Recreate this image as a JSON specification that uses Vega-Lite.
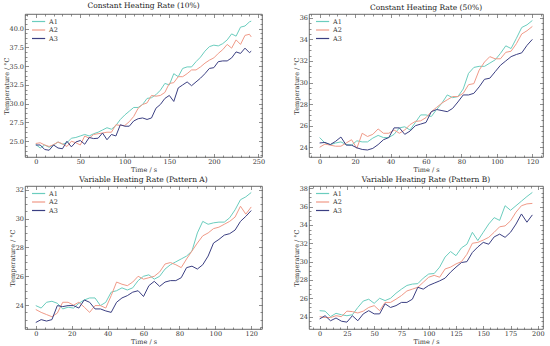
{
  "$schema": "https://vega.github.io/schema/vega-lite/v6.json",
  "padding": {"left": 2, "top": 1, "right": 4, "bottom": 1},
  "background": "white",
  "data": {"values": [
    {"p":1,"t":0,"A1":24.56,"A2":24.7,"A3":24.5},
    {"p":1,"t":5,"A1":24.1,"A2":24.8,"A3":24.5},
    {"p":1,"t":10,"A1":24.5,"A2":24.5,"A3":23.9},
    {"p":1,"t":15,"A1":24.2,"A2":24.3,"A3":23.8},
    {"p":1,"t":20,"A1":24.5,"A2":24.55,"A3":24.5},
    {"p":1,"t":25,"A1":24.9,"A2":24.9,"A3":24.1},
    {"p":1,"t":30,"A1":24.6,"A2":24.65,"A3":24.0},
    {"p":1,"t":35,"A1":24.8,"A2":24.3,"A3":25.0},
    {"p":1,"t":40,"A1":25.4,"A2":25.0,"A3":24.25},
    {"p":1,"t":45,"A1":25.5,"A2":24.8,"A3":24.9},
    {"p":1,"t":50,"A1":25.7,"A2":24.5,"A3":25.1},
    {"p":1,"t":55,"A1":25.9,"A2":25.7,"A3":24.6},
    {"p":1,"t":60,"A1":25.7,"A2":25.4,"A3":25.5},
    {"p":1,"t":65,"A1":26.0,"A2":25.9,"A3":25.35},
    {"p":1,"t":70,"A1":26.2,"A2":26.0,"A3":25.4},
    {"p":1,"t":75,"A1":26.5,"A2":26.1,"A3":26.1},
    {"p":1,"t":80,"A1":26.8,"A2":26.2,"A3":25.2},
    {"p":1,"t":85,"A1":26.6,"A2":26.2,"A3":25.9},
    {"p":1,"t":90,"A1":27.1,"A2":27.2,"A3":25.7},
    {"p":1,"t":95,"A1":27.9,"A2":27.1,"A3":27.2},
    {"p":1,"t":100,"A1":28.5,"A2":27.1,"A3":27.0},
    {"p":1,"t":105,"A1":29.0,"A2":27.6,"A3":27.0},
    {"p":1,"t":110,"A1":29.5,"A2":28.3,"A3":27.7},
    {"p":1,"t":115,"A1":29.5,"A2":29.4,"A3":28.0},
    {"p":1,"t":120,"A1":29.9,"A2":29.9,"A3":28.1},
    {"p":1,"t":125,"A1":30.7,"A2":30.1,"A3":27.9},
    {"p":1,"t":130,"A1":30.8,"A2":31.1,"A3":28.1},
    {"p":1,"t":135,"A1":31.2,"A2":31.0,"A3":29.4},
    {"p":1,"t":140,"A1":31.8,"A2":31.1,"A3":29.9},
    {"p":1,"t":145,"A1":32.7,"A2":31.5,"A3":30.7},
    {"p":1,"t":150,"A1":32.5,"A2":32.7,"A3":31.1},
    {"p":1,"t":155,"A1":34.0,"A2":32.8,"A3":30.3},
    {"p":1,"t":160,"A1":33.6,"A2":33.6,"A3":32.1},
    {"p":1,"t":165,"A1":34.7,"A2":33.6,"A3":32.5},
    {"p":1,"t":170,"A1":34.9,"A2":34.0,"A3":32.9},
    {"p":1,"t":175,"A1":34.9,"A2":34.5,"A3":32.4},
    {"p":1,"t":180,"A1":35.6,"A2":34.5,"A3":32.9},
    {"p":1,"t":185,"A1":36.2,"A2":34.9,"A3":33.4},
    {"p":1,"t":190,"A1":37.0,"A2":35.4,"A3":34.0},
    {"p":1,"t":195,"A1":37.6,"A2":35.8,"A3":34.7},
    {"p":1,"t":200,"A1":37.8,"A2":36.1,"A3":34.8},
    {"p":1,"t":205,"A1":37.7,"A2":36.7,"A3":35.6},
    {"p":1,"t":210,"A1":38.0,"A2":37.2,"A3":35.7},
    {"p":1,"t":215,"A1":38.5,"A2":37.9,"A3":35.7},
    {"p":1,"t":220,"A1":39.3,"A2":37.4,"A3":36.1},
    {"p":1,"t":225,"A1":39.0,"A2":38.5,"A3":36.9},
    {"p":1,"t":230,"A1":40.2,"A2":37.9,"A3":36.7},
    {"p":1,"t":235,"A1":40.35,"A2":39.1,"A3":37.4},
    {"p":1,"t":240,"A1":40.9,"A2":39.25,"A3":36.8},
    {"p":1,"t":242,"A1":41.0,"A2":38.9,"A3":37.0},
    {"p":2,"t":0,"A1":24.9,"A2":24.0,"A3":24.4},
    {"p":2,"t":3,"A1":24.4,"A2":24.3,"A3":24.45},
    {"p":2,"t":6,"A1":24.25,"A2":24.2,"A3":24.25},
    {"p":2,"t":9,"A1":24.4,"A2":24.1,"A3":24.55},
    {"p":2,"t":12,"A1":24.5,"A2":24.1,"A3":24.95},
    {"p":2,"t":15,"A1":24.25,"A2":24.4,"A3":24.2},
    {"p":2,"t":18,"A1":24.2,"A2":24.7,"A3":24.2},
    {"p":2,"t":21,"A1":24.6,"A2":23.9,"A3":23.95},
    {"p":2,"t":24,"A1":24.5,"A2":25.3,"A3":23.8},
    {"p":2,"t":27,"A1":24.5,"A2":25.0,"A3":23.75},
    {"p":2,"t":30,"A1":24.85,"A2":25.2,"A3":23.9},
    {"p":2,"t":33,"A1":25.1,"A2":25.7,"A3":24.25},
    {"p":2,"t":36,"A1":24.9,"A2":25.3,"A3":24.7},
    {"p":2,"t":39,"A1":24.9,"A2":25.3,"A3":24.9},
    {"p":2,"t":42,"A1":25.2,"A2":25.6,"A3":25.8},
    {"p":2,"t":45,"A1":25.8,"A2":25.3,"A3":25.8},
    {"p":2,"t":48,"A1":25.9,"A2":25.6,"A3":25.2},
    {"p":2,"t":51,"A1":25.6,"A2":26.1,"A3":25.5},
    {"p":2,"t":54,"A1":26.3,"A2":26.4,"A3":26.0},
    {"p":2,"t":57,"A1":27.0,"A2":26.45,"A3":26.15},
    {"p":2,"t":60,"A1":27.0,"A2":26.75,"A3":26.3},
    {"p":2,"t":63,"A1":26.85,"A2":27.3,"A3":27.3},
    {"p":2,"t":66,"A1":27.5,"A2":27.7,"A3":27.5},
    {"p":2,"t":69,"A1":28.1,"A2":28.1,"A3":27.4},
    {"p":2,"t":72,"A1":28.85,"A2":28.4,"A3":27.3},
    {"p":2,"t":75,"A1":28.6,"A2":28.7,"A3":27.6},
    {"p":2,"t":78,"A1":28.7,"A2":28.7,"A3":28.2},
    {"p":2,"t":81,"A1":29.4,"A2":29.0,"A3":28.85},
    {"p":2,"t":84,"A1":30.85,"A2":29.8,"A3":28.85},
    {"p":2,"t":87,"A1":31.4,"A2":29.9,"A3":29.0},
    {"p":2,"t":90,"A1":31.5,"A2":31.15,"A3":29.6},
    {"p":2,"t":93,"A1":31.5,"A2":31.9,"A3":30.3},
    {"p":2,"t":96,"A1":31.8,"A2":32.4,"A3":30.4},
    {"p":2,"t":99,"A1":32.1,"A2":32.2,"A3":31.0},
    {"p":2,"t":102,"A1":32.7,"A2":32.2,"A3":31.6},
    {"p":2,"t":105,"A1":33.4,"A2":32.8,"A3":32.0},
    {"p":2,"t":108,"A1":33.15,"A2":32.9,"A3":32.4},
    {"p":2,"t":111,"A1":34.1,"A2":33.6,"A3":32.6},
    {"p":2,"t":114,"A1":35.1,"A2":34.5,"A3":32.75},
    {"p":2,"t":117,"A1":35.35,"A2":34.8,"A3":33.45},
    {"p":2,"t":120,"A1":35.75,"A2":35.2,"A3":34.0},
    {"p":3,"t":0,"A1":23.97,"A2":23.7,"A3":22.8},
    {"p":3,"t":3,"A1":23.8,"A2":23.5,"A3":23.0},
    {"p":3,"t":6,"A1":24.2,"A2":23.35,"A3":22.9},
    {"p":3,"t":9,"A1":24.27,"A2":23.2,"A3":23.0},
    {"p":3,"t":12,"A1":24.13,"A2":23.45,"A3":23.97},
    {"p":3,"t":15,"A1":23.74,"A2":24.2,"A3":23.9},
    {"p":3,"t":18,"A1":23.86,"A2":24.2,"A3":23.97},
    {"p":3,"t":21,"A1":23.8,"A2":24.0,"A3":23.97},
    {"p":3,"t":24,"A1":24.13,"A2":24.2,"A3":23.8},
    {"p":3,"t":27,"A1":24.36,"A2":23.86,"A3":24.36},
    {"p":3,"t":30,"A1":24.5,"A2":23.5,"A3":24.2},
    {"p":3,"t":33,"A1":24.5,"A2":23.97,"A3":23.74},
    {"p":3,"t":36,"A1":23.97,"A2":23.97,"A3":23.74},
    {"p":3,"t":39,"A1":24.2,"A2":23.8,"A3":23.6},
    {"p":3,"t":42,"A1":24.9,"A2":24.66,"A3":23.5},
    {"p":3,"t":45,"A1":25.0,"A2":25.6,"A3":24.2},
    {"p":3,"t":48,"A1":25.2,"A2":25.45,"A3":24.5},
    {"p":3,"t":51,"A1":25.05,"A2":25.35,"A3":24.66},
    {"p":3,"t":54,"A1":25.2,"A2":25.6,"A3":24.9},
    {"p":3,"t":57,"A1":25.7,"A2":26.0,"A3":25.0},
    {"p":3,"t":60,"A1":26.0,"A2":25.8,"A3":24.6},
    {"p":3,"t":63,"A1":26.1,"A2":25.9,"A3":25.35},
    {"p":3,"t":66,"A1":25.8,"A2":26.0,"A3":25.65},
    {"p":3,"t":69,"A1":26.0,"A2":26.3,"A3":25.3},
    {"p":3,"t":72,"A1":26.5,"A2":26.85,"A3":25.6},
    {"p":3,"t":75,"A1":26.8,"A2":26.95,"A3":25.7},
    {"p":3,"t":78,"A1":27.0,"A2":26.8,"A3":25.7},
    {"p":3,"t":81,"A1":27.2,"A2":26.6,"A3":25.9},
    {"p":3,"t":84,"A1":27.4,"A2":27.2,"A3":26.6},
    {"p":3,"t":87,"A1":27.75,"A2":27.75,"A3":26.7},
    {"p":3,"t":90,"A1":29.0,"A2":28.3,"A3":26.5},
    {"p":3,"t":93,"A1":29.8,"A2":28.8,"A3":26.8},
    {"p":3,"t":96,"A1":29.6,"A2":29.0,"A3":27.4},
    {"p":3,"t":99,"A1":29.7,"A2":29.3,"A3":28.3},
    {"p":3,"t":102,"A1":29.75,"A2":29.4,"A3":28.55},
    {"p":3,"t":105,"A1":29.75,"A2":29.6,"A3":28.85},
    {"p":3,"t":108,"A1":30.05,"A2":29.8,"A3":28.95},
    {"p":3,"t":111,"A1":30.6,"A2":30.1,"A3":29.2},
    {"p":3,"t":114,"A1":31.3,"A2":30.85,"A3":29.8},
    {"p":3,"t":117,"A1":31.5,"A2":30.3,"A3":30.15},
    {"p":3,"t":120,"A1":31.8,"A2":30.8,"A3":30.55},
    {"p":4,"t":0,"A1":24.65,"A2":24.0,"A3":23.75},
    {"p":4,"t":5,"A1":24.6,"A2":23.9,"A3":24.1},
    {"p":4,"t":10,"A1":24.0,"A2":23.9,"A3":23.55},
    {"p":4,"t":15,"A1":24.36,"A2":24.1,"A3":23.85},
    {"p":4,"t":20,"A1":24.2,"A2":24.0,"A3":23.5},
    {"p":4,"t":25,"A1":24.1,"A2":24.6,"A3":23.4},
    {"p":4,"t":30,"A1":24.2,"A2":24.55,"A3":24.1},
    {"p":4,"t":35,"A1":25.0,"A2":24.4,"A3":23.55},
    {"p":4,"t":40,"A1":25.7,"A2":24.6,"A3":24.3},
    {"p":4,"t":45,"A1":25.9,"A2":25.0,"A3":24.65},
    {"p":4,"t":50,"A1":25.45,"A2":25.2,"A3":24.3},
    {"p":4,"t":55,"A1":26.0,"A2":24.65,"A3":24.3},
    {"p":4,"t":60,"A1":25.75,"A2":25.55,"A3":25.4},
    {"p":4,"t":65,"A1":26.0,"A2":25.55,"A3":25.0},
    {"p":4,"t":70,"A1":26.55,"A2":25.9,"A3":25.2},
    {"p":4,"t":75,"A1":27.0,"A2":26.3,"A3":25.55},
    {"p":4,"t":80,"A1":27.4,"A2":26.8,"A3":25.55},
    {"p":4,"t":85,"A1":27.55,"A2":27.0,"A3":25.9},
    {"p":4,"t":90,"A1":27.6,"A2":27.2,"A3":27.2},
    {"p":4,"t":95,"A1":28.2,"A2":27.75,"A3":27.0},
    {"p":4,"t":100,"A1":28.65,"A2":28.3,"A3":27.4},
    {"p":4,"t":105,"A1":28.7,"A2":28.5,"A3":27.65},
    {"p":4,"t":110,"A1":29.4,"A2":28.3,"A3":27.9},
    {"p":4,"t":115,"A1":30.5,"A2":29.2,"A3":28.2},
    {"p":4,"t":120,"A1":31.1,"A2":29.4,"A3":28.85},
    {"p":4,"t":125,"A1":30.65,"A2":29.75,"A3":29.4},
    {"p":4,"t":130,"A1":31.5,"A2":30.0,"A3":29.9},
    {"p":4,"t":135,"A1":31.9,"A2":30.8,"A3":30.0},
    {"p":4,"t":140,"A1":33.2,"A2":32.0,"A3":31.0},
    {"p":4,"t":145,"A1":32.3,"A2":32.1,"A3":31.6},
    {"p":4,"t":150,"A1":33.2,"A2":32.35,"A3":32.1},
    {"p":4,"t":155,"A1":34.1,"A2":32.65,"A3":31.9},
    {"p":4,"t":160,"A1":34.8,"A2":33.2,"A3":32.7},
    {"p":4,"t":165,"A1":34.5,"A2":33.8,"A3":33.0},
    {"p":4,"t":170,"A1":36.1,"A2":33.9,"A3":32.65},
    {"p":4,"t":175,"A1":35.6,"A2":34.45,"A3":33.2},
    {"p":4,"t":180,"A1":36.1,"A2":35.4,"A3":34.1},
    {"p":4,"t":185,"A1":36.6,"A2":36.1,"A3":35.2},
    {"p":4,"t":190,"A1":37.1,"A2":36.3,"A3":34.3},
    {"p":4,"t":195,"A1":37.55,"A2":36.35,"A3":35.1}
  ]},
  "transform": [{"fold": ["A1", "A2", "A3"], "as": ["s", "v"]}],
  "columns": 2,
  "bounds": "flush",
  "spacing": {"row": 29, "column": 47},
  "resolve": {"scale": {"x": "independent", "y": "independent", "color": "independent"}, "legend": {"color": "independent"}},
  "config": {
    "font": "DejaVu Serif",
    "view": {"stroke": "#444", "strokeWidth": 0.8},
    "title": {"font": "DejaVu Serif", "fontSize": 7.5, "fontWeight": "normal", "color": "#222", "offset": 2},
    "axis": {"labelFont": "DejaVu Serif", "labelFontSize": 6.5, "labelColor": "#333", "titleFont": "DejaVu Serif", "titleFontSize": 6.5, "titleFontWeight": "normal", "titleColor": "#333", "domain": false, "grid": false, "tickColor": "#444", "tickWidth": 0.6, "labelPadding": 5, "titlePadding": 0, "labelOverlap": false},
    "legend": {"orient": "top-left", "offset": 3.5, "title": null, "labelFont": "DejaVu Serif", "labelFontSize": 6.5, "labelColor": "#333", "symbolType": "M-2.4,0L2.4,0", "symbolSize": 30, "symbolStrokeWidth": 1.2, "symbolOffset": 6.1, "rowPadding": 1.5, "padding": 0, "labelOffset": 7}
  },
  "concat": [
    {
      "width": 237, "height": 143,
      "title": "Constant Heating Rate (10%)",
      "transform": [{"filter": "datum.p === 1"}],
      "resolve": {"axis": {"x": "independent", "y": "independent"}},
      "layer": [
        {
          "mark": {"type": "line", "strokeWidth": 1},
          "encoding": {
            "x": {"field": "t", "type": "quantitative", "scale": {"domain": [-12.1, 254.1], "nice": false, "zero": false},
              "axis": {"title": "Time / s", "format": ".0f", "values": [-10,0,10,20,30,40,50,60,70,80,90,100,110,120,130,140,150,160,170,180,190,200,210,220,230,240,250], "labelExpr": "datum.value % 50 === 0 ? datum.label : ''", "tickSize": {"condition": {"test": "datum.value % 50 === 0", "value": -3.5}, "value": -2}}},
            "y": {"field": "v", "type": "quantitative", "scale": {"domain": [22.9, 41.95], "nice": false, "zero": false},
              "axis": {"title": "Temperature / °C", "format": ".1f", "values": [23.125,23.75,24.375,25,25.625,26.25,26.875,27.5,28.125,28.75,29.375,30,30.625,31.25,31.875,32.5,33.125,33.75,34.375,35,35.625,36.25,36.875,37.5,38.125,38.75,39.375,40,40.625,41.25,41.875], "labelExpr": "datum.value % 2.5 === 0 ? datum.label : ''", "tickSize": {"condition": {"test": "datum.value % 2.5 === 0", "value": -3.5}, "value": -2}}},
            "color": {"field": "s", "type": "nominal", "scale": {"domain": ["A1", "A2", "A3"], "range": ["#6BCDBE", "#F09A88", "#3B3F82"]}}
          }
        },
        {
          "mark": {"type": "line", "opacity": 0},
          "encoding": {
            "x": {"field": "t", "type": "quantitative", "axis": {"orient": "top", "title": null, "labels": false, "values": [-10,0,10,20,30,40,50,60,70,80,90,100,110,120,130,140,150,160,170,180,190,200,210,220,230,240,250], "tickSize": {"condition": {"test": "datum.value % 50 === 0", "value": -3.5}, "value": -2}}},
            "y": {"field": "v", "type": "quantitative", "axis": {"orient": "right", "title": null, "labels": false, "values": [23.125,23.75,24.375,25,25.625,26.25,26.875,27.5,28.125,28.75,29.375,30,30.625,31.25,31.875,32.5,33.125,33.75,34.375,35,35.625,36.25,36.875,37.5,38.125,38.75,39.375,40,40.625,41.25,41.875], "tickSize": {"condition": {"test": "datum.value % 2.5 === 0", "value": -3.5}, "value": -2}}},
            "detail": {"field": "s"}
          }
        }
      ]
    },
    {
      "width": 234, "height": 143,
      "title": "Constant Heating Rate (50%)",
      "transform": [{"filter": "datum.p === 2"}],
      "resolve": {"axis": {"x": "independent", "y": "independent"}},
      "layer": [
        {
          "mark": {"type": "line", "strokeWidth": 1},
          "encoding": {
            "x": {"field": "t", "type": "quantitative", "scale": {"domain": [-6, 126], "nice": false, "zero": false},
              "axis": {"title": "Time / s", "format": ".0f", "values": [-5,0,5,10,15,20,25,30,35,40,45,50,55,60,65,70,75,80,85,90,95,100,105,110,115,120,125], "labelExpr": "datum.value % 20 === 0 ? datum.label : ''", "tickSize": {"condition": {"test": "datum.value % 20 === 0", "value": -3.5}, "value": -2}}},
            "y": {"field": "v", "type": "quantitative", "scale": {"domain": [23.1, 36.35], "nice": false, "zero": false},
              "axis": {"title": "Temperature / °C", "format": ".0f", "values": [23.5,24,24.5,25,25.5,26,26.5,27,27.5,28,28.5,29,29.5,30,30.5,31,31.5,32,32.5,33,33.5,34,34.5,35,35.5,36], "labelExpr": "datum.value % 2 === 0 ? datum.label : ''", "tickSize": {"condition": {"test": "datum.value % 2 === 0", "value": -3.5}, "value": -2}}},
            "color": {"field": "s", "type": "nominal", "scale": {"domain": ["A1", "A2", "A3"], "range": ["#6BCDBE", "#F09A88", "#3B3F82"]}}
          }
        },
        {
          "mark": {"type": "line", "opacity": 0},
          "encoding": {
            "x": {"field": "t", "type": "quantitative", "axis": {"orient": "top", "title": null, "labels": false, "values": [-5,0,5,10,15,20,25,30,35,40,45,50,55,60,65,70,75,80,85,90,95,100,105,110,115,120,125], "tickSize": {"condition": {"test": "datum.value % 20 === 0", "value": -3.5}, "value": -2}}},
            "y": {"field": "v", "type": "quantitative", "axis": {"orient": "right", "title": null, "labels": false, "values": [23.5,24,24.5,25,25.5,26,26.5,27,27.5,28,28.5,29,29.5,30,30.5,31,31.5,32,32.5,33,33.5,34,34.5,35,35.5,36], "tickSize": {"condition": {"test": "datum.value % 2 === 0", "value": -3.5}, "value": -2}}},
            "detail": {"field": "s"}
          }
        }
      ]
    },
    {
      "width": 237, "height": 143,
      "title": "Variable Heating Rate (Pattern A)",
      "transform": [{"filter": "datum.p === 3"}],
      "resolve": {"axis": {"x": "independent", "y": "independent"}},
      "layer": [
        {
          "mark": {"type": "line", "strokeWidth": 1},
          "encoding": {
            "x": {"field": "t", "type": "quantitative", "scale": {"domain": [-6, 126], "nice": false, "zero": false},
              "axis": {"title": "Time / s", "format": ".0f", "values": [-5,0,5,10,15,20,25,30,35,40,45,50,55,60,65,70,75,80,85,90,95,100,105,110,115,120,125], "labelExpr": "datum.value % 20 === 0 ? datum.label : ''", "tickSize": {"condition": {"test": "datum.value % 20 === 0", "value": -3.5}, "value": -2}}},
            "y": {"field": "v", "type": "quantitative", "scale": {"domain": [22.35, 32.25], "nice": false, "zero": false},
              "axis": {"title": "Temperature / °C", "format": ".0f", "values": [22.5,23,23.5,24,24.5,25,25.5,26,26.5,27,27.5,28,28.5,29,29.5,30,30.5,31,31.5,32], "labelExpr": "datum.value % 2 === 0 ? datum.label : ''", "tickSize": {"condition": {"test": "datum.value % 2 === 0", "value": -3.5}, "value": -2}}},
            "color": {"field": "s", "type": "nominal", "scale": {"domain": ["A1", "A2", "A3"], "range": ["#6BCDBE", "#F09A88", "#3B3F82"]}}
          }
        },
        {
          "mark": {"type": "line", "opacity": 0},
          "encoding": {
            "x": {"field": "t", "type": "quantitative", "axis": {"orient": "top", "title": null, "labels": false, "values": [-5,0,5,10,15,20,25,30,35,40,45,50,55,60,65,70,75,80,85,90,95,100,105,110,115,120,125], "tickSize": {"condition": {"test": "datum.value % 20 === 0", "value": -3.5}, "value": -2}}},
            "y": {"field": "v", "type": "quantitative", "axis": {"orient": "right", "title": null, "labels": false, "values": [22.5,23,23.5,24,24.5,25,25.5,26,26.5,27,27.5,28,28.5,29,29.5,30,30.5,31,31.5,32], "tickSize": {"condition": {"test": "datum.value % 2 === 0", "value": -3.5}, "value": -2}}},
            "detail": {"field": "s"}
          }
        }
      ]
    },
    {
      "width": 234, "height": 143,
      "title": "Variable Heating Rate (Pattern B)",
      "transform": [{"filter": "datum.p === 4"}],
      "resolve": {"axis": {"x": "independent", "y": "independent"}},
      "layer": [
        {
          "mark": {"type": "line", "strokeWidth": 1},
          "encoding": {
            "x": {"field": "t", "type": "quantitative", "scale": {"domain": [-9.75, 204.75], "nice": false, "zero": false},
              "axis": {"title": "Time / s", "format": ".0f", "values": [-6.25,0,6.25,12.5,18.75,25,31.25,37.5,43.75,50,56.25,62.5,68.75,75,81.25,87.5,93.75,100,106.25,112.5,118.75,125,131.25,137.5,143.75,150,156.25,162.5,168.75,175,181.25,187.5,193.75,200], "labelExpr": "datum.value % 25 === 0 ? datum.label : ''", "tickSize": {"condition": {"test": "datum.value % 25 === 0", "value": -3.5}, "value": -2}}},
            "y": {"field": "v", "type": "quantitative", "scale": {"domain": [22.65, 38.25], "nice": false, "zero": false},
              "axis": {"title": "Temperature / °C", "format": ".0f", "values": [23,23.5,24,24.5,25,25.5,26,26.5,27,27.5,28,28.5,29,29.5,30,30.5,31,31.5,32,32.5,33,33.5,34,34.5,35,35.5,36,36.5,37,37.5,38], "labelExpr": "datum.value % 2 === 0 ? datum.label : ''", "tickSize": {"condition": {"test": "datum.value % 2 === 0", "value": -3.5}, "value": -2}}},
            "color": {"field": "s", "type": "nominal", "scale": {"domain": ["A1", "A2", "A3"], "range": ["#6BCDBE", "#F09A88", "#3B3F82"]}}
          }
        },
        {
          "mark": {"type": "line", "opacity": 0},
          "encoding": {
            "x": {"field": "t", "type": "quantitative", "axis": {"orient": "top", "title": null, "labels": false, "values": [-6.25,0,6.25,12.5,18.75,25,31.25,37.5,43.75,50,56.25,62.5,68.75,75,81.25,87.5,93.75,100,106.25,112.5,118.75,125,131.25,137.5,143.75,150,156.25,162.5,168.75,175,181.25,187.5,193.75,200], "tickSize": {"condition": {"test": "datum.value % 25 === 0", "value": -3.5}, "value": -2}}},
            "y": {"field": "v", "type": "quantitative", "axis": {"orient": "right", "title": null, "labels": false, "values": [23,23.5,24,24.5,25,25.5,26,26.5,27,27.5,28,28.5,29,29.5,30,30.5,31,31.5,32,32.5,33,33.5,34,34.5,35,35.5,36,36.5,37,37.5,38], "tickSize": {"condition": {"test": "datum.value % 2 === 0", "value": -3.5}, "value": -2}}},
            "detail": {"field": "s"}
          }
        }
      ]
    }
  ]
}
